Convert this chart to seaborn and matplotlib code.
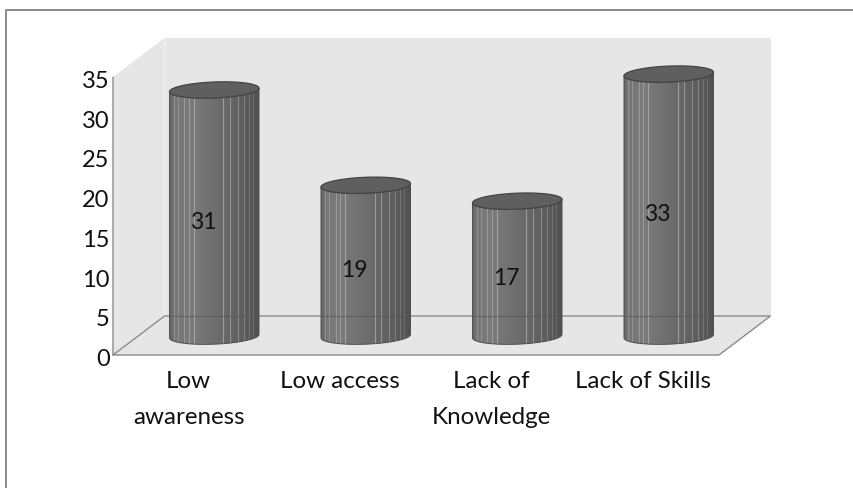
import matplotlib
matplotlib.use("Agg")
import matplotlib.pyplot as plt
from matplotlib.colors import LinearSegmentedColormap
from matplotlib.lines import Line2D
from matplotlib.patches import PathPatch, Polygon
from matplotlib.path import Path
from matplotlib.transforms import ScaledTranslation
import numpy as np
import pandas as pd
import seaborn as sns

categories = ["Low\nawareness", "Low access", "Lack of\nKnowledge", "Lack of Skills"]
values = [31, 19, 17, 33]
y_ticks = [0, 5, 10, 15, 20, 25, 30, 35]

W, H = 854, 489
sns.set_theme(style="white")
plt.rcParams["font.family"] = ["Lato", "DejaVu Sans"]

GRID = "#8c8c8c"
WALL = "#e6e6e6"
TEXT = "#111111"
PX_PER_UNIT = 278 / 35


def box(left, top, right, bottom):
    return [left / W, 1 - bottom / H, (right - left) / W, (bottom - top) / H]


fig = plt.figure(figsize=(W / 100, H / 100), dpi=100, facecolor="white")

# Outer chart frame: only the top and left edges show.
fig.add_artist(Line2D([6.5 / W, 6.5 / W, 1], [0, 1 - 10.5 / H, 1 - 10.5 / H],
                      color="#8a8a8a", lw=1.4, transform=fig.transFigure))

# Front plane of the box carries the value axis and the category labels.
ax = fig.add_axes(box(113, 78, 719, 356))
ax.set_xlim(-0.5, 3.5)
ax.set_ylim(0, 35)
ax.patch.set_alpha(0)
for side in ax.spines.values():
    side.set_visible(False)

# Depth of the box in data units.
dx, dy = 51.5 / 151.5, 39 / PX_PER_UNIT
x0, x1, y0, y1 = -0.5, 3.5, 0, 35
walls = [
    [(x0 + dx, y0 + dy), (x1 + dx, y0 + dy), (x1 + dx, y1 + dy), (x0 + dx, y1 + dy)],
    [(x0, y0), (x0 + dx, y0 + dy), (x0 + dx, y1 + dy), (x0, y1)],
    [(x0, y0), (x0 + dx, y0 + dy), (x1 + dx, y0 + dy), (x1, y0)],
]
for corners in walls:
    ax.add_patch(Polygon(corners, closed=True, fc=WALL, ec="none", clip_on=False, zorder=0))
ax.plot([x0, x0, x1, x1 + dx, x0 + dx, x0],
        [y1, y0, y0, y0 + dy, y0 + dy, y0],
        color=GRID, lw=1.0, clip_on=False, zorder=1, solid_joinstyle="miter")

ax.set_yticks(y_ticks)
ax.set_xticks(range(len(categories)))
ax.set_xticklabels(categories, fontsize=17.4, color=TEXT, linespacing=1.88, va="top")
ax.tick_params(axis="x", length=0, pad=10.5)
ax.tick_params(axis="y", length=0, pad=2.5, labelsize=17, labelcolor=TEXT)
nudge = ScaledTranslation(0, -1.5 / 100, fig.dpi_scale_trans)
for label in ax.get_yticklabels():
    label.set_transform(label.get_transform() + nudge)

# Cylinders stand half way into the box, on an axes shifted by that depth.
# The axes reaches below zero so the rounded base stays inside it.
BELOW = 3
BASE = 337.2
depth_ax = fig.add_axes(box(138.5, BASE - 278, 744.5, BASE + BELOW * PX_PER_UNIT))
depth_ax.patch.set_alpha(0)
frame = pd.DataFrame({"category": categories, "value": values})
sns.barplot(data=frame, x="category", y="value", ax=depth_ax, width=89.5 / 151.5,
            color=WALL, saturation=1, errorbar=None)
depth_ax.axis("off")

shade = LinearSegmentedColormap.from_list(
    "cyl",
    [(0, "#666666"), (0.05, "#767676"), (0.22, "#7b7b7b"), (0.5, "#6e6e6e"),
     (0.8, "#5e5e5e"), (1, "#515151")],
)
stripes = [0.045, 0.09, 0.165, 0.215, 0.27, 0.6, 0.675, 0.765, 0.83, 0.885, 0.93]
stripe_alpha = [0.45, 0.45, 0.55, 0.6, 0.7, 0.7, 0.6, 0.5, 0.4, 0.3, 0.25]
ramp = np.linspace(0, 1, 200)[None, :]

RY = 8 / PX_PER_UNIT      # cap half height in data units
SKEW = 1.75 / PX_PER_UNIT  # the right end of each rim sits slightly higher


def rim(cx, cy, half, t):
    return cx + half * np.cos(t), cy + RY * np.sin(t) + SKEW * np.cos(t)


floor_y = (BASE - 317) / PX_PER_UNIT

for bar, val in zip(list(depth_ax.patches), values):
    bar.set_visible(False)
    cx = bar.get_x() + bar.get_width() / 2
    half = bar.get_width() / 2

    # Body outline: round the lower rim, straight up, back along the top rim.
    t = np.linspace(np.pi, 2 * np.pi, 80)
    bx, by = rim(cx, 0, half, t)
    tx, ty = rim(cx, val, half, t[::-1])
    outline = np.column_stack([np.r_[bx, tx], np.r_[by, ty]])
    body = PathPatch(Path(np.vstack([outline, outline[:1]])), fc="none", ec="#4f4f4f",
                     lw=0.7, transform=depth_ax.transData, zorder=3)
    depth_ax.add_patch(body)

    img = depth_ax.imshow(ramp, cmap=shade, aspect="auto", zorder=2,
                          extent=(cx - half, cx + half, -2, val + 2), vmin=0, vmax=1)
    img.set_clip_path(body)

    for frac, alpha in zip(stripes, stripe_alpha):
        sx = cx - half + frac * 2 * half
        line, = depth_ax.plot([sx, sx], [-2, val + 2], color="#b4b4b4", lw=0.8,
                              alpha=alpha, zorder=2.5)
        line.set_clip_path(body)

    # Floor line seen faintly through the cylinder.
    floor, = depth_ax.plot([cx - half, cx + half], [floor_y] * 2,
                           color="#555555", lw=0.8, alpha=0.6, zorder=2.6)
    floor.set_clip_path(body)

    # Cap.
    t = np.linspace(0, 2 * np.pi, 120)
    ex, ey = rim(cx, val, half, t)
    depth_ax.add_patch(Polygon(np.column_stack([ex, ey]), closed=True, fc="#5f5f5f",
                               ec="#444444", lw=0.9, zorder=4, clip_on=False))

    depth_ax.annotate(str(val), xy=(cx, val / 2), xytext=(-8, -6),
                      textcoords="offset points", ha="center", va="center",
                      fontsize=16.5, color=TEXT, zorder=5)

depth_ax.set_xlim(-0.5, 3.5)
depth_ax.set_ylim(-BELOW, 35)

fig.savefig("out.png", dpi=100, facecolor="white")
